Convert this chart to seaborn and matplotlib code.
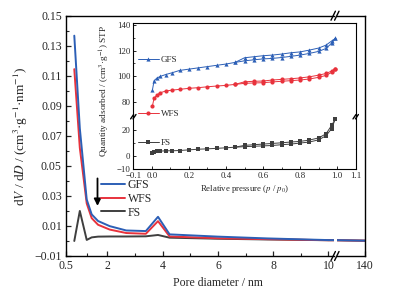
import matplotlib
matplotlib.use('Agg')
import matplotlib.pyplot as plt
import seaborn as sns
from matplotlib.lines import Line2D

# pore size distribution (main plot)
pore = [0.8, 1.0, 1.25, 1.43, 1.66, 2.08, 2.68, 3.39, 3.83, 4.25, 6.0, 7.8, 10.0, 140]
gfs_psd = [0.1367, 0.075, 0.0276, 0.0177, 0.0133, 0.0099, 0.0070, 0.0066, 0.0161, 0.0044, 0.0029, 0.0017, 0.0006, 0.0002]
wfs_psd = [0.1144, 0.062, 0.025, 0.0152, 0.0108, 0.0076, 0.0053, 0.0048, 0.0132, 0.0030, 0.0018, 0.0012, 0.0005, 0.0002]
fs_psd = [0.0, 0.020, 0.0007, 0.0024, 0.0029, 0.0030, 0.0030, 0.0031, 0.0040, 0.0022, 0.0015, 0.0010, 0.0005, 0.0002]

# N2 isotherms (inset)
p_ads = [0.003, 0.012, 0.027, 0.045, 0.075, 0.11, 0.15, 0.2, 0.25, 0.3, 0.35, 0.4, 0.45,
         0.5, 0.55, 0.6, 0.65, 0.7, 0.75, 0.8, 0.85, 0.9, 0.94, 0.97, 0.99]
p_des = [0.99, 0.97, 0.94, 0.9, 0.85, 0.8, 0.75, 0.7, 0.65, 0.6, 0.55, 0.5, 0.45]
gfs_ads = [89.0, 96.4, 98.5, 99.8, 101.3, 102.7, 104.5, 105.5, 106.5, 107.5, 108.5, 109.5, 110.8,
           112.0, 112.8, 113.5, 113.9, 114.6, 115.5, 116.5, 117.8, 119.4, 121.7, 125.8, 129.5]
gfs_des = [129.5, 127.5, 124.3, 122.0, 120.4, 119.0, 118.3, 117.3, 116.5, 116.0, 115.2, 114.4, 110.8]
wfs_ads = [76.6, 82.7, 85.2, 87.0, 88.4, 89.1, 89.7, 90.5, 91.0, 91.7, 92.3, 92.8, 93.6,
           94.4, 94.7, 94.9, 95.5, 96.0, 96.5, 97.0, 97.8, 99.1, 100.6, 102.9, 105.8]
wfs_des = [105.8, 104.0, 102.1, 100.8, 99.5, 98.6, 98.0, 97.5, 97.0, 96.2, 96.0, 95.6, 93.6]
fs_ads = [1.7, 3.0, 3.3, 3.5, 3.8, 3.8, 4.0, 4.5, 5.0, 5.3, 5.7, 6.1, 6.6,
          7.0, 7.3, 7.6, 7.9, 8.5, 9.0, 9.8, 10.6, 12.3, 15.5, 21.0, 28.5]
fs_des = [28.5, 23.5, 17.0, 13.8, 12.1, 11.1, 10.6, 10.0, 9.5, 9.0, 8.5, 8.0, 6.6]

names = ['GFS', 'WFS', 'FS']
blue, red, gray = '#2c5fb6', '#e8323c', '#3f3f3f'

sns.set_style('ticks')
plt.rcParams['font.family'] = ['Liberation Serif', 'DejaVu Serif']
plt.rcParams['mathtext.fontset'] = 'stix'

W, H = 411, 299
fig = plt.figure(figsize=(W / 100, H / 100), dpi=100)


def box(l, r, t, b):
    return [l / W, 1 - b / H, (r - l) / W, (b - t) / H]


# main axes, broken x axis
ax1 = fig.add_axes(box(66, 334, 15.7, 256))
ax2 = fig.add_axes(box(336.5, 365, 15.7, 256))
for ax in (ax1, ax2):
    sns.lineplot(x=pore, y=fs_psd, ax=ax, color=gray, lw=1.4, label='FS', legend=False)
    sns.lineplot(x=pore, y=wfs_psd, ax=ax, color=red, lw=1.4, label='WFS', legend=False)
    sns.lineplot(x=pore, y=gfs_psd, ax=ax, color=blue, lw=1.4, label='GFS', legend=False)
    ax.set_ylim(-0.01, 0.15)
    for s in ax.spines.values():
        s.set_linewidth(1.0)
        s.set_color('black')
    ax.tick_params(direction='in', labelsize=8.5, length=3.5, width=0.9, pad=3)
    ax.tick_params(which='minor', direction='in', length=2, width=0.8)

ax1.set_xlim(0.5, 10.2)
ax1.set_xticks([0.5, 2, 4, 6, 8, 10])
ax1.set_xticklabels(['0.5', '2', '4', '6', '8', '10'])
ax1.set_xticks([1.25, 3, 5, 7, 9], minor=True)
ax1.set_yticks([-0.01, 0.01, 0.03, 0.05, 0.07, 0.09, 0.11, 0.13, 0.15])
ax1.set_yticklabels(['\u22120.01', '0.01', '0.03', '0.05', '0.07', '0.09', '0.11', '0.13', '0.15'])
ax1.set_yticks([0.0, 0.02, 0.04, 0.06, 0.08, 0.10, 0.12, 0.14], minor=True)
ax1.spines['right'].set_visible(False)
ax1.set_xlabel('Pore diameter / nm', fontsize=8.5)
ax1.xaxis.set_label_coords(152 / 268, -(277 - 256) / 240.3)
ax1.set_ylabel('d$V$ / d$D$ / (cm$^{3}$·g$^{-1}$·nm$^{-1}$)', fontsize=9.5)
ax1.yaxis.set_label_coords(-(66 - 30) / 268, 0.5)

ax2.set_xlim(20, 140.5)
ax2.set_xticks([140])
ax2.set_xticklabels(['140'])
ax2.set_yticks([])
ax2.spines['left'].set_visible(False)

h, l = ax1.get_legend_handles_labels()
fig.legend([h[l.index(n)] for n in names], names, loc='upper left', frameon=False, fontsize=8.5,
           bbox_to_anchor=(101 / W, 1 - 179 / H), bbox_transform=fig.transFigure,
           borderpad=0, borderaxespad=0, handlelength=2.0, handletextpad=0.25, labelspacing=0.15)

ax1.annotate('', xy=(1.64, 0.0215), xytext=(1.64, 0.0435),
             arrowprops=dict(arrowstyle='-|>', color='black', lw=1.3, mutation_scale=10))


def slash(xp, yp, dx=2.2, dy=4.5):
    fig.add_artist(Line2D([(xp - dx) / W, (xp + dx) / W], [1 - (yp + dy) / H, 1 - (yp - dy) / H],
                          transform=fig.transFigure, color='black', lw=1.0))


for yy in (15.7, 256):
    slash(333.2, yy)
    slash(336.8, yy)

# inset with broken y axis
ax_u = fig.add_axes(box(133.3, 355.7, 23, 116.7))
ax_l = fig.add_axes(box(133.3, 355.7, 116.7, 168.5))
styles = [(gfs_ads, gfs_des, blue, '^'), (wfs_ads, wfs_des, red, 'o'), (fs_ads, fs_des, gray, 's')]
for ax in (ax_u, ax_l):
    ax.set_facecolor('white')
    for n, (ya, yd, c, m) in zip(names, styles):
        sns.lineplot(x=p_ads, y=ya, ax=ax, color=c, lw=0.7, marker=m, markersize=3,
                     markeredgewidth=0, label=n, legend=False)
        sns.lineplot(x=p_des, y=yd, ax=ax, color=c, lw=0.7, marker=m, markersize=3,
                     markeredgewidth=0, legend=False)
    ax.set_xlim(-0.1, 1.1)
    for s in ax.spines.values():
        s.set_linewidth(0.8)
        s.set_color('black')
    ax.tick_params(direction='in', labelsize=6.3, length=2.5, width=0.7, pad=2)
    ax.tick_params(which='minor', direction='in', length=1.5, width=0.6)

ax_u.set_ylim(68.3, 141.6)
ax_u.set_yticks([80, 100, 120, 140])
ax_u.set_yticks([90, 110, 130], minor=True)
ax_u.set_xticks([])
ax_u.spines['bottom'].set_visible(False)

ax_l.set_ylim(-10, 30.3)
ax_l.set_yticks([-10, 0, 20])
ax_l.set_yticklabels(['\u221210', '0', '20'])
ax_l.set_yticks([10], minor=True)
ax_l.set_xticks([-0.1, 0.0, 0.2, 0.4, 0.6, 0.8, 1.0, 1.1])
ax_l.set_xticklabels(['\u22120.1', '0.0', '0.2', '0.4', '0.6', '0.8', '1.0', '1.1'])
ax_l.set_xticks([0.1, 0.3, 0.5, 0.7, 0.9], minor=True)
ax_l.tick_params(axis='x', pad=2.5)
ax_l.spines['top'].set_visible(False)
ax_l.set_xlabel('Relative pressure ($p$ / $p_0$)', fontsize=6.3, labelpad=2)
fig.text(105 / W, 1 - 91 / H, 'Quantity adsorbed / (cm$^{3}$·g$^{-1}$) STP', fontsize=6.7,
         rotation=90, ha='center', va='center')

for xx in (133.3, 355.7):
    slash(xx - 1.2, 116.7, dx=1.5, dy=2.2)
    slash(xx + 1.2, 116.7, dx=1.5, dy=2.2)

hu, lu = ax_u.get_legend_handles_labels()
hl, ll = ax_l.get_legend_handles_labels()
spots = {'GFS': (hu[lu.index('GFS')], 60), 'WFS': (hu[lu.index('WFS')], 114),
         'FS': (hl[ll.index('FS')], 143.3)}
for n in names:
    hd, yc = spots[n]
    fig.legend([hd], [n], loc='center left', frameon=False, fontsize=6.5,
               bbox_to_anchor=(138 / W, 1 - yc / H), bbox_transform=fig.transFigure,
               borderpad=0, borderaxespad=0, handlelength=2.3, handletextpad=0.25)

fig.savefig('out.png', dpi=100)
